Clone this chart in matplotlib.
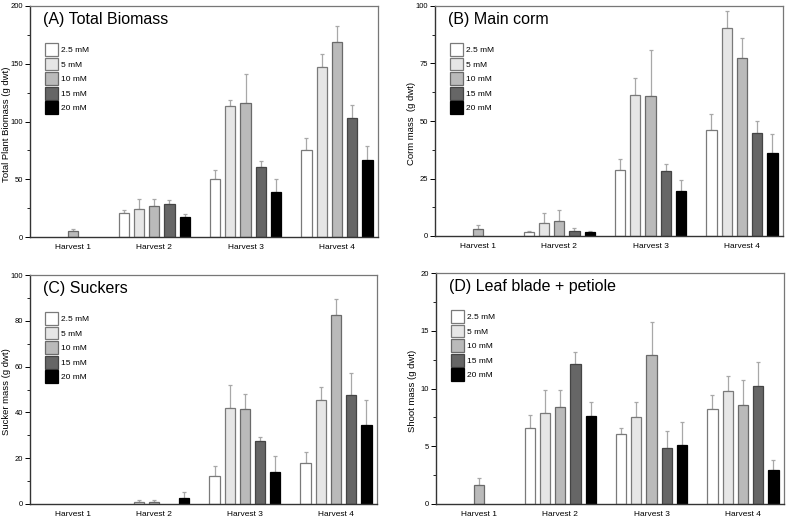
import numpy as np
import matplotlib.pyplot as plt

plt.rcParams['font.family'] = ['Liberation Sans', 'DejaVu Sans']

harvests = ['Harvest 1', 'Harvest 2', 'Harvest 3', 'Harvest 4']
treatments = ['2.5 mM', '5 mM', '10 mM', '15 mM', '20 mM']
nan = np.nan

# (A) Total biomass: means and upper SE, one list per treatment
total_mean = [[nan, 20.8, 49.8, 74.9],
              [nan, 24.6, 113.3, 147.4],
              [4.9, 27.2, 116.0, 168.8],
              [nan, 28.9, 61.0, 103.2],
              [nan, 17.1, 39.3, 66.5]]
total_se = [[nan, 2.9, 7.8, 10.4],
            [nan, 8.7, 5.3, 11.0],
            [2.0, 6.1, 24.8, 13.9],
            [nan, 2.9, 4.4, 10.7],
            [nan, 2.6, 10.7, 12.7]]

# (B) Main corm
corm_mean = [[nan, 1.9, 28.6, 45.9],
             [nan, 5.5, 61.2, 90.3],
             [2.9, 6.5, 60.7, 77.3],
             [nan, 2.3, 28.3, 44.9],
             [nan, 1.7, 19.7, 36.2]]
corm_se = [[nan, 0.4, 4.7, 7.1],
           [nan, 4.4, 7.3, 7.7],
           [1.7, 4.8, 20.0, 8.7],
           [nan, 1.0, 2.9, 5.2],
           [nan, 0.5, 4.6, 8.0]]

# (C) Suckers
sucker_mean = [[nan, nan, 12.1, 17.7],
               [nan, 1.0, 42.1, 45.3],
               [nan, 1.0, 41.5, 82.6],
               [nan, nan, 27.5, 47.5],
               [nan, 2.8, 13.9, 34.7]]
sucker_se = [[nan, nan, 4.4, 4.8],
             [nan, 0.9, 9.7, 5.6],
             [nan, 0.9, 6.5, 7.0],
             [nan, nan, 1.7, 9.5],
             [nan, 2.3, 7.1, 10.6]]

# (D) Leaf blade + petiole
shoot_mean = [[nan, 6.58, 6.09, 8.22],
              [nan, 7.88, 7.53, 9.75],
              [1.64, 8.40, 12.93, 8.57],
              [nan, 12.09, 4.85, 10.24],
              [nan, 7.58, 5.13, 2.94]]
shoot_se = [[nan, 1.10, 0.50, 1.20],
            [nan, 2.00, 1.27, 1.33],
            [0.60, 1.50, 2.80, 2.16],
            [nan, 1.07, 1.44, 2.02],
            [nan, 1.28, 1.99, 0.87]]

fills = ['white', '#e6e6e6', '#bababa', '#666666', 'black']
edges = ['#7a7a7a', '#7a7a7a', '#6a6a6a', '#444444', 'black']

group_x = np.array([0.11, 1, 2, 3])
pitch = 0.167
width = 0.112

panels = [
    ('(A) Total Biomass', 'Total Plant Biomass (g dwt)', total_mean, total_se, 200, 50, 25,
     [30, 6, 378, 237]),
    ('(B) Main corm', 'Corm mass  (g dwt)', corm_mean, corm_se, 100, 25, 12.5,
     [435, 6, 783, 236]),
    ('(C) Suckers', 'Sucker mass (g dwt)', sucker_mean, sucker_se, 100, 20, 10,
     [30, 275, 377, 504]),
    ('(D) Leaf blade + petiole', 'Shoot mass (g dwt)', shoot_mean, shoot_se, 20, 5, 2.5,
     [436, 273, 784, 504]),
]

W, H = 789, 522
fig = plt.figure(figsize=(W / 100, H / 100), dpi=100)

for title, ylabel, means, ses, ymax, major, minor, box in panels:
    l, t, r, b = box
    aw = r - l
    ah = b - t
    ax = fig.add_axes([l / W, 1 - b / H, aw / W, ah / H])
    for i, name in enumerate(treatments):
        x = group_x + (i - 2) * pitch
        m = np.array(means[i])
        e = np.array(ses[i])
        ax.bar(x, m, width, color=fills[i], edgecolor=edges[i], linewidth=0.9,
               label=name, zorder=2)
        ax.errorbar(x, m, yerr=[np.zeros_like(e), e], fmt='none', ecolor='#a8a8a8',
                    elinewidth=0.9, capsize=1.3, capthick=0.9, zorder=1)

    ax.set_xlim(-0.36, 3.45)
    ax.set_ylim(0, ymax)
    ax.set_xticks(group_x)
    ax.set_xticklabels(harvests, fontsize=6)
    ax.tick_params(axis='x', length=0, pad=5)
    ax.set_yticks(np.arange(0, ymax + 0.01, major))
    ax.set_yticks(np.arange(0, ymax + 0.01, minor), minor=True)
    ax.tick_params(axis='y', which='major', labelsize=5.5, length=3.5, width=0.7, pad=1.5)
    ax.tick_params(axis='y', which='minor', length=2, width=0.6)
    ax.set_ylabel(ylabel, fontsize=6.8, va='center')
    ax.yaxis.set_label_coords(-23.5 / aw, 0.49)

    for s in ['left', 'bottom']:
        ax.spines[s].set_color('#333333')
        ax.spines[s].set_linewidth(1.0)
    for s in ['top', 'right']:
        ax.spines[s].set_color('#777777')
        ax.spines[s].set_linewidth(0.9)

    ax.text(13 / aw, 1 - 6 / ah, title, transform=ax.transAxes, fontsize=11.5,
            va='top', ha='left')
    ax.legend(loc='upper left', bbox_to_anchor=(15 / aw, 1 - 37 / ah), frameon=False,
              fontsize=6, handlelength=1.5, handleheight=2.0, labelspacing=0.2,
              handletextpad=0.45, borderaxespad=0, borderpad=0)

plt.savefig('out.png', dpi=100)
